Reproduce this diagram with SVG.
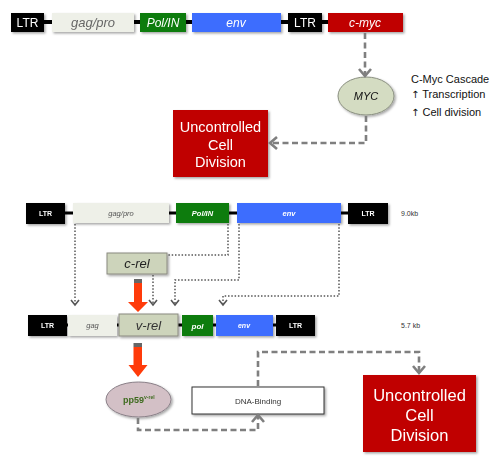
<svg xmlns="http://www.w3.org/2000/svg" width="497" height="461" viewBox="0 0 497 461">
<defs>
<filter id="sh" x="-10%" y="-10%" width="130%" height="140%">
<feDropShadow dx="1.5" dy="1.5" stdDeviation="0.8" flood-color="#000" flood-opacity="0.35"/>
</filter>
<marker id="chev" markerUnits="userSpaceOnUse" markerWidth="14" markerHeight="14" viewBox="0 0 14 14" refX="10" refY="7" orient="auto">
<path d="M3,1 L10,7 L3,13" fill="none" stroke="#7f7f7f" stroke-width="2.6"/>
</marker>
<marker id="chevs" markerUnits="userSpaceOnUse" markerWidth="10" markerHeight="10" viewBox="0 0 10 10" refX="8" refY="5" orient="auto">
<path d="M3,1 L8,5 L3,9" fill="none" stroke="#555" stroke-width="1.6"/>
</marker>
<style>
text{font-family:"Liberation Sans","DejaVu Sans",sans-serif;}
.blk{fill:#000;}
.gag{fill:#eef0e8;}
.pol{fill:#0a7b0a;}
.env{fill:#3d6dfe;}
.red{fill:#c00000;}
.grn{fill:#cdd4bb;stroke:#8a8a80;stroke-width:1;}
.w{fill:#fff;}
.c{text-anchor:middle;}
.i{font-style:italic;}
.b{font-weight:bold;}
.dash{fill:none;stroke:#7f7f7f;stroke-width:2.6;stroke-dasharray:6 3.5;marker-end:url(#chev);}
.dot{fill:none;stroke:#555;stroke-width:1.5;stroke-dasharray:1.5 1.8;}
.rarrow{fill:#ff3b0a;}
.up{font-family:"DejaVu Sans",sans-serif;fill:#111;font-size:10px;}
</style>
</defs>

<!-- backbone lines -->
<g id="backbones">
<line x1="44" y1="22" x2="330" y2="22" stroke="#000" stroke-width="4"/>
<line x1="64" y1="213" x2="350" y2="213" stroke="#000" stroke-width="3"/>
<line x1="66" y1="325" x2="278" y2="325" stroke="#000" stroke-width="3"/>
</g>

<!-- top construct -->
<g id="top-ltr1" filter="url(#sh)"><rect class="blk" x="11" y="13" width="33" height="19"/><text class="w c" x="27.5" y="26.5" font-size="12">LTR</text></g>
<g id="top-gagpro" filter="url(#sh)"><rect class="gag" x="52" y="13" width="82" height="19"/><text class="c i" x="93" y="27" font-size="13" fill="#666">gag/pro</text></g>
<g id="top-polin" filter="url(#sh)"><rect class="pol" x="140" y="13" width="46" height="19"/><text class="w c i" x="163" y="27" font-size="12">Pol/IN</text></g>
<g id="top-env" filter="url(#sh)"><rect class="env" x="192" y="13" width="89" height="19"/><text class="w c i" x="236" y="27" font-size="12">env</text></g>
<g id="top-ltr2" filter="url(#sh)"><rect class="blk" x="288" y="13" width="34" height="19"/><text class="w c" x="305" y="26.5" font-size="12">LTR</text></g>
<g id="top-cmyc" filter="url(#sh)"><rect class="red" x="328" y="13" width="75" height="19"/><text class="w c i" x="365" y="27" font-size="12">c-myc</text></g>

<g id="myc" filter="url(#sh)"><ellipse cx="366" cy="96" rx="28" ry="19" fill="#d4dcc2" stroke="#8a8f80" stroke-width="1"/><text class="c i" x="366" y="100" font-size="11" fill="#111">MYC</text></g>

<g id="cascade-text" font-size="11" fill="#111">
<text x="411" y="83">C-Myc Cascade</text>
<text x="411" y="98"><tspan class="up">↑</tspan> Transcription</text>
<text x="411" y="116"><tspan class="up">↑</tspan> Cell division</text>
</g>

<g id="uncontrolled1" filter="url(#sh)"><rect class="red" x="173" y="110" width="95" height="67"/>
<text class="w c" font-size="14.5"><tspan x="220.5" y="132">Uncontrolled</tspan><tspan x="220.5" y="149.5">Cell</tspan><tspan x="220.5" y="167">Division</tspan></text></g>

<!-- 9.0kb construct -->
<g id="r2-ltr1" filter="url(#sh)"><rect class="blk" x="26" y="203" width="39" height="21"/><text class="w c b" x="45.5" y="216" font-size="7">LTR</text></g>
<g id="r2-gagpro" filter="url(#sh)"><rect class="gag" x="73" y="203" width="96" height="20"/><text class="c i" x="121" y="216" font-size="7.5" fill="#555">gag/pro</text></g>
<g id="r2-polin" filter="url(#sh)"><rect class="pol" x="176" y="203" width="53" height="20"/><text class="w c i b" x="202.5" y="216" font-size="7.5">Pol/IN</text></g>
<g id="r2-env" filter="url(#sh)"><rect class="env" x="237" y="203" width="104" height="20"/><text class="w c i b" x="289" y="216" font-size="7.5">env</text></g>
<g id="r2-ltr2" filter="url(#sh)"><rect class="blk" x="348" y="203" width="40" height="21"/><text class="w c b" x="368" y="216" font-size="7">LTR</text></g>
<text x="401" y="215.5" font-size="7" fill="#333">9.0kb</text>

<g id="crel" filter="url(#sh)"><rect class="grn" x="107" y="253" width="60" height="21"/><text class="c i" x="137" y="268" font-size="13" fill="#222">c-rel</text></g>

<!-- 5.7kb construct -->
<g id="r3-ltr1" filter="url(#sh)"><rect class="blk" x="28" y="315" width="39" height="21"/><text class="w c b" x="47.5" y="328" font-size="7">LTR</text></g>
<g id="r3-gag" filter="url(#sh)"><rect class="gag" x="68" y="315" width="49" height="21"/><text class="c i" x="92.5" y="328" font-size="7.5" fill="#555">gag</text></g>
<g id="r3-vrel" filter="url(#sh)"><rect class="grn" x="119" y="314" width="59" height="22"/><text class="c i" x="148.5" y="330" font-size="13" fill="#333">v-rel</text></g>
<g id="r3-pol" filter="url(#sh)"><rect class="pol" x="182" y="315" width="31" height="21"/><text class="w c i b" x="197.5" y="328.5" font-size="8">pol</text></g>
<g id="r3-env" filter="url(#sh)"><rect class="env" x="216" y="315" width="57" height="21"/><text class="w c i b" x="244" y="328" font-size="7">env</text></g>
<g id="r3-ltr2" filter="url(#sh)"><rect class="blk" x="276" y="315" width="39" height="21"/><text class="w c b" x="295.5" y="328" font-size="7">LTR</text></g>
<text x="401" y="327.5" font-size="7" fill="#333">5.7 kb</text>

<g id="pp59" filter="url(#sh)"><ellipse cx="138.5" cy="399.5" rx="32.5" ry="17.5" fill="#d3c0c6" stroke="#8a8088" stroke-width="1"/>
<text x="123" y="403" font-size="9" font-weight="bold" fill="#3e6b1f">pp59<tspan font-size="5" dy="-4">v-rel</tspan></text></g>

<g id="dna-binding" filter="url(#sh)"><rect x="192" y="387" width="132" height="27" fill="#fff" stroke="#333" stroke-width="1"/><text class="c" x="258" y="403.5" font-size="8" fill="#333">DNA-Binding</text></g>

<g id="uncontrolled2" filter="url(#sh)"><rect class="red" x="363" y="375" width="113" height="77"/>
<text class="w c" font-size="16.5"><tspan x="419.5" y="401">Uncontrolled</tspan><tspan x="419.5" y="421">Cell</tspan><tspan x="419.5" y="441">Division</tspan></text></g>

<!-- connectors -->
<g id="connectors">
<path class="dash" d="M365,33 V76"/>
<path class="dash" d="M366,116 V143 H270"/>
<path class="dash" d="M138,418 V430 H258 V415"/>
<path class="dash" d="M258,386 V352 H419 V373"/>

<path class="dot" marker-end="url(#chevs)" d="M75,224 V305"/>
<path class="dot" d="M228,224 V255 H168"/>
<path class="dot" marker-end="url(#chevs)" d="M153,275 V305"/>
<path class="dot" marker-end="url(#chevs)" d="M239,224 V280 H175 V305"/>
<path class="dot" marker-end="url(#chevs)" d="M339,224 V296 H223 V305"/>

<g id="red-arrow-1">
<rect x="134" y="279" width="8" height="4" fill="#666"/>
<polygon class="rarrow" points="134,283 142,283 142,302 148,302 138,312 128,302 134,302"/>
</g>
<g id="red-arrow-2">
<rect x="133.5" y="343" width="8.5" height="4" fill="#666"/>
<polygon class="rarrow" points="133.5,347 142,347 142,365 147.5,365 138,377 128.5,365 133.5,365"/>
</g>
</g>
</svg>
